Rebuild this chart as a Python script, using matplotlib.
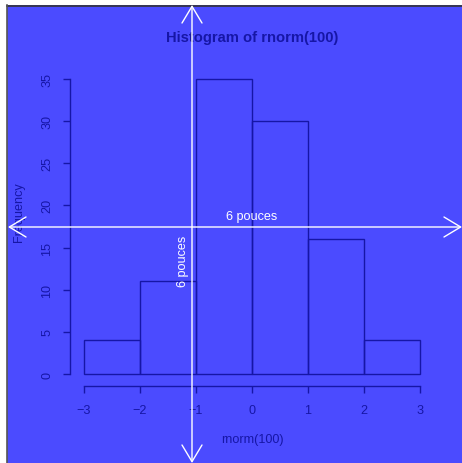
import matplotlib
matplotlib.use("Agg")
import matplotlib.pyplot as plt
from matplotlib.patches import Rectangle, FancyArrowPatch
from matplotlib.lines import Line2D
import numpy as np

plt.rcParams['font.family'] = ['Liberation Sans', 'DejaVu Sans']

bin_edges = [-3, -2, -1, 0, 1, 2, 3]
counts = [4, 11, 35, 30, 16, 4]
xticks = [-3, -2, -1, 0, 1, 2, 3]
yticks = [0, 5, 10, 15, 20, 25, 30, 35]
title = "Histogram of rnorm(100)"
xlabel = "rnorm(100)"
ylabel = "Frequency"
note = "6 pouces"

W, H = 462, 464
BG = "#4b4bff"
FG = "#1616a6"
FS = 9.1

fig = plt.figure(figsize=(W/100, H/100), dpi=100, facecolor="white", edgecolor="white")

def fx(px):
    return px / W

def fy(py):
    return 1 - py / H

# blue panel with dark border on top/left only
fig.patches.append(Rectangle((fx(7), 0), 1.0, fy(6), transform=fig.transFigure,
                             facecolor=BG, edgecolor='none', zorder=-5))
fig.lines.append(Line2D([fx(7), 1], [fy(6.5), fy(6.5)], transform=fig.transFigure,
                        color="#333333", linewidth=1.2, zorder=-4))
fig.lines.append(Line2D([fx(7.5), fx(7.5)], [0, fy(6)], transform=fig.transFigure,
                        color="#555555", linewidth=1.2, zorder=-4))

ax = fig.add_axes([fx(70), fy(387), fx(434) - fx(70), fy(68) - fy(387)])
ax.patch.set_alpha(0)
ax.set_zorder(1)
ax.set_xlim(-3.25, 3.25)
ax.set_ylim(-1.42, 36.4)

widths = np.diff(bin_edges)
ax.bar(bin_edges[:-1], counts, width=widths, align='edge', fill=False,
       edgecolor=FG, linewidth=1.0)

for s in ['top', 'right']:
    ax.spines[s].set_visible(False)
ax.spines['left'].set_bounds(0, 35)
ax.spines['bottom'].set_bounds(-3, 3)
for s in ['left', 'bottom']:
    ax.spines[s].set_color(FG)
    ax.spines[s].set_linewidth(1.0)

ax.set_xticks(xticks)
ax.set_xticklabels([str(t).replace('-', '\u2212') for t in xticks])
ax.set_yticks(yticks)
ax.set_yticklabels([str(t) for t in yticks], rotation=90, va='center')
ax.tick_params(colors=FG, labelcolor=FG, length=5, width=1.0, labelsize=FS)
ax.tick_params(axis='x', pad=8)
ax.tick_params(axis='y', pad=7)

fig.text(fx(252), fy(38), title, ha='center', va='center', color=FG,
         fontsize=10.6, fontweight='bold', zorder=2)
fig.text(fx(252), fy(440), xlabel, ha='center', va='center', color=FG, fontsize=FS, zorder=2)
fig.text(fx(19), fy(212), ylabel, ha='center', va='center', color=FG, fontsize=FS,
         rotation=90, zorder=2)

# white arrows
arr_kw = dict(arrowstyle='<->,head_length=1.0,head_width=0.6', color='white',
              linewidth=1.0, transform=fig.transFigure, shrinkA=0, shrinkB=0,
              mutation_scale=12, zorder=3)
fig.patches.append(FancyArrowPatch((fx(192), fy(6)), (fx(192), fy(464)), **arr_kw))
fig.patches.append(FancyArrowPatch((fx(8), fy(228)), (fx(462), fy(228)), **arr_kw))

fig.text(fx(252), fy(217), note, ha='center', va='center', color='white', fontsize=FS, zorder=4)
fig.text(fx(183), fy(261), note, ha='center', va='center', color='white', fontsize=FS,
         rotation=90, zorder=4)

fig.savefig("out.png", dpi=100, facecolor="white")
